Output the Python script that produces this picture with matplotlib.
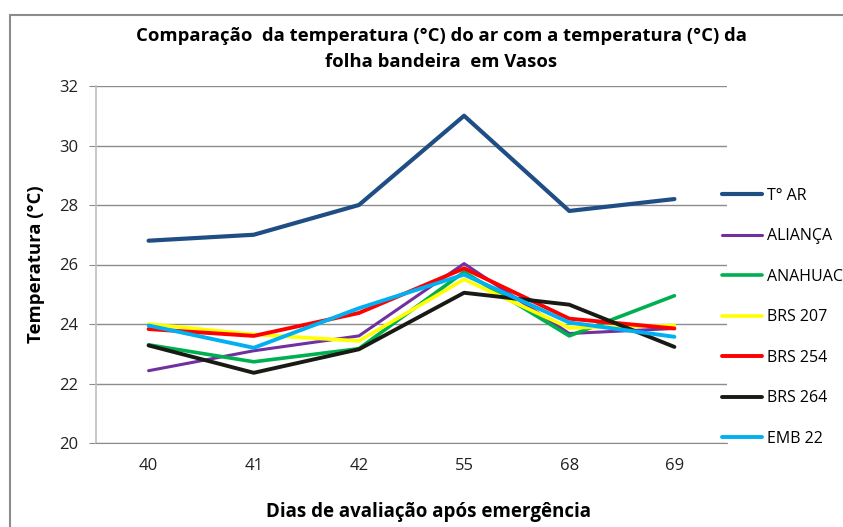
import matplotlib
matplotlib.use("Agg")
import matplotlib.pyplot as plt
from matplotlib.patches import Rectangle

plt.rcParams['font.family'] = ['Open Sans', 'DejaVu Sans']

dias = ['40', '41', '42', '55', '68', '69']

t_ar = [26.8, 27.0, 28.0, 31.0, 27.8, 28.2]
alianca = [22.43, 23.1, 23.6, 26.03, 23.68, 23.85]
anahuac = [23.3, 22.73, 23.17, 25.75, 23.6, 24.95]
brs207 = [24.0, 23.65, 23.43, 25.5, 23.87, 23.95]
brs254 = [23.83, 23.6, 24.37, 25.87, 24.18, 23.85]
brs264 = [23.28, 22.36, 23.15, 25.05, 24.65, 23.23]
emb22 = [23.95, 23.2, 24.53, 25.66, 24.05, 23.57]

series = [
    ('T° AR', t_ar, '#1F4E85', 3.0),
    ('ALIANÇA', alianca, '#7030A0', 2.2),
    ('ANAHUAC', anahuac, '#00B050', 2.6),
    ('BRS 207', brs207, '#FFFF00', 2.6),
    ('BRS 254', brs254, '#FF0000', 2.8),
    ('BRS 264', brs264, '#1A1A14', 2.8),
    ('EMB 22', emb22, '#00B0F0', 2.8),
]

fig = plt.figure(figsize=(8.43, 5.27), dpi=100)
ax = fig.add_axes([96 / 843, 1 - 443 / 527, (727 - 96) / 843, (443 - 86) / 527])

x = range(len(dias))
for nome, vals, cor, lw in series:
    ax.plot(x, vals, color=cor, lw=lw, label=nome, solid_capstyle='round')

ax.set_xlim(-0.5, len(dias) - 0.5)
ax.set_ylim(20, 32)
ax.set_yticks(range(20, 33, 2))
ax.set_xticks(list(x))
ax.set_xticklabels(dias)
ax.yaxis.grid(True, color='#8c8c8c', lw=1)
ax.set_axisbelow(True)
for s in ['top', 'right']:
    ax.spines[s].set_visible(False)
ax.spines['left'].set_color('#bfbfbf')
ax.spines['bottom'].set_color('#8c8c8c')
ax.spines['left'].set_linewidth(1.2)
ax.tick_params(axis='y', length=5, color='#8c8c8c', labelsize=12, pad=8, colors='#222222')
ax.tick_params(axis='x', length=0, labelsize=12, pad=11, colors='#222222')

ax.set_ylabel('Temperatura (°C)', fontsize=13.3, fontweight='bold', labelpad=10)
fig.text(428 / 843, 1 - 512 / 527, 'Dias de avaliação após emergência', ha='center', va='center',
         fontsize=13.5, fontweight='bold')
fig.text(441 / 843, 1 - 49 / 527,
         'Comparação  da temperatura (°C) do ar com a temperatura (°C) da\nfolha bandeira  em Vasos',
         ha='center', va='center', fontsize=13.3, fontweight='bold', linespacing=1.6)

ax.legend(loc='upper left', bbox_to_anchor=(722 / 843, 1 - 188 / 527), bbox_transform=fig.transFigure,
          frameon=False, fontsize=11.5, handlelength=2.5, handletextpad=0.3, labelspacing=1.53,
          borderaxespad=0, borderpad=0)

fig.patches.append(Rectangle((10 / 843, -0.1), 1.0, 1 - 15 / 527 + 0.1, transform=fig.transFigure,
                             fill=False, edgecolor='#8c8c8c', lw=1.5))

fig.savefig('out.png', dpi=100)
